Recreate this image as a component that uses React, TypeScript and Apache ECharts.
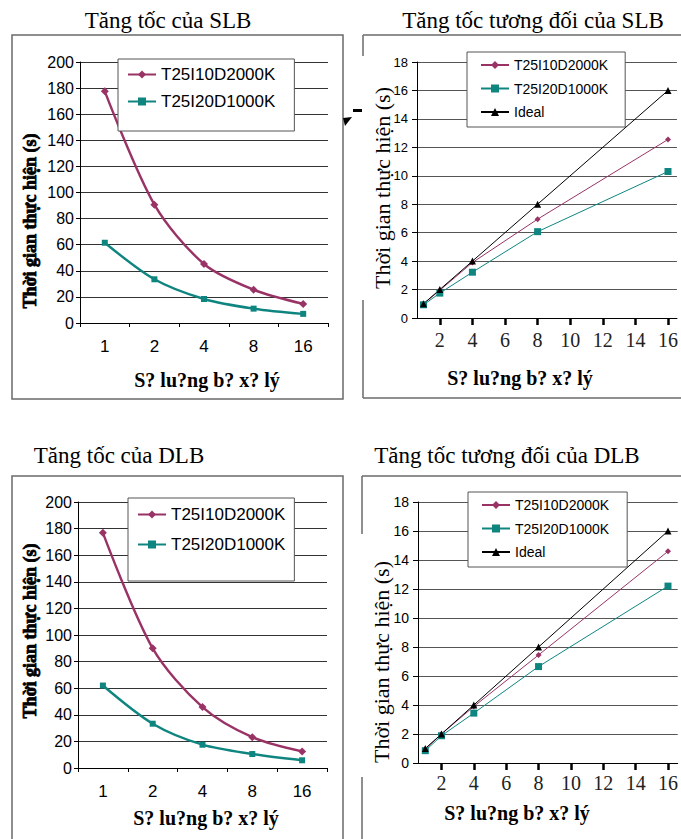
import React, { useEffect, useRef } from 'react';
import * as echarts from 'echarts';

// ---- data ----
const categories = ['1', '2', '4', '8', '16'];
const processors = [1, 2, 4, 8, 16];
const seriesNames = ['T25I10D2000K', 'T25I20D1000K', 'Ideal'];

const slbTimeA = [177.5, 90.7, 45.2, 25.5, 14.6];
const slbTimeB = [61.5, 33.5, 18.4, 11, 7];
const dlbTimeA = [176.8, 90, 45.8, 23.2, 12.5];
const dlbTimeB = [62, 33.3, 17.5, 10.5, 5.8];

const slbSpeedA = [1, 1.95, 3.9, 6.95, 12.55];
const slbSpeedB = [0.93, 1.75, 3.22, 6.07, 10.3];
const dlbSpeedA = [0.96, 2, 3.9, 7.45, 14.6];
const dlbSpeedB = [0.85, 1.88, 3.44, 6.65, 12.2];
const idealSpeed = [1, 2, 4, 8, 16];

const timeTicks = [0, 20, 40, 60, 80, 100, 120, 140, 160, 180, 200];
const speedXTicks = [2, 4, 6, 8, 10, 12, 14, 16];

const MAROON = '#993366';
const TEAL = '#0f8580';
const SANS = '"Liberation Sans", Arial, sans-serif';
const SERIF = '"Liberation Serif", "Times New Roman", serif';

const labelMap: Record<string, string> = {
  p1a: seriesNames[0], p1b: seriesNames[1],
  p2a: seriesNames[0], p2b: seriesNames[1], p2c: seriesNames[2],
  p3a: seriesNames[0], p3b: seriesNames[1],
  p4a: seriesNames[0], p4b: seriesNames[1], p4c: seriesNames[2],
};

const pairs = (ys: number[]) => processors.map((x, i) => [x, ys[i]]);

function timeXAxis(gridIndex: number) {
  return {
    type: 'category', gridIndex, data: categories, boundaryGap: true,
    axisLine: { show: true, lineStyle: { color: '#000', width: 1 } },
    axisTick: { show: true, length: 4, lineStyle: { color: '#000' } },
    axisLabel: { margin: 15, fontSize: 17, fontFamily: SANS, color: '#000' },
    splitLine: { show: false },
  };
}
function timeYAxis(gridIndex: number) {
  return {
    type: 'value', gridIndex, min: timeTicks[0], max: timeTicks[timeTicks.length - 1], interval: 20,
    axisLine: { show: true, onZero: false, lineStyle: { color: '#000' } },
    axisTick: { show: true, length: 4, lineStyle: { color: '#000' } },
    axisLabel: { margin: 6, fontSize: 16, fontFamily: SANS, color: '#000' },
    splitLine: { show: true, lineStyle: { color: '#333', width: 1 } },
  };
}
function speedXAxis(gridIndex: number, min: number, max: number, margin: number) {
  return {
    type: 'value', gridIndex, min, max,
    axisLine: { show: true, onZero: false, lineStyle: { color: '#000' } },
    axisTick: { show: true, customValues: speedXTicks, length: 7, lineStyle: { color: '#000', width: 2.5 } },
    axisLabel: { customValues: speedXTicks, margin, fontSize: 20, fontFamily: SERIF, color: '#222' },
    splitLine: { show: false },
  };
}
function speedYAxis(gridIndex: number, fontSize: number) {
  return {
    type: 'value', gridIndex, min: 0, max: 18, interval: 2,
    axisLine: { show: true, onZero: false, lineStyle: { color: '#000' } },
    axisTick: { show: true, length: 5, lineStyle: { color: '#000' } },
    axisLabel: { margin: 9, fontSize, fontFamily: SANS, color: '#000' },
    splitLine: { show: true, lineStyle: { color: '#555', width: 1 } },
  };
}

function timeSeries(name: string, idx: number, data: number[], color: string, symbol: string, size: number) {
  return {
    type: 'line', name, xAxisIndex: idx, yAxisIndex: idx, data, smooth: 0.3,
    symbol, symbolSize: size, showSymbol: true,
    lineStyle: { color, width: 2.4 }, itemStyle: { color },
  };
}
function speedSeries(name: string, idx: number, data: number[], color: string, symbol: string, size: number) {
  return {
    type: 'line', name, xAxisIndex: idx, yAxisIndex: idx, data: pairs(data),
    symbol, symbolSize: size, showSymbol: true,
    lineStyle: { color, width: 1 }, itemStyle: { color },
  };
}

function legend(data: string[], left: number, top: number, padding: number[], itemGap: number, fontSize: number) {
  return {
    data, left, top, orient: 'vertical', padding, itemGap, itemWidth: 28, itemHeight: 10,
    borderColor: '#555', borderWidth: 1, backgroundColor: '#fff', selectedMode: false,
    textStyle: { fontSize, fontFamily: SANS, color: '#000' },
    formatter: (n: string) => labelMap[n],
  };
}

function text(x: number, y: number, str: string, fontSize: number, fontFamily: string, fontWeight = 'normal', rotation = 0, extra: any = {}) {
  return {
    type: 'text', x, y, rotation,
    style: { text: str, fontSize, fontFamily, fontWeight, fill: '#000', align: 'center', verticalAlign: 'middle', ...extra },
  };
}
function seg(x1: number, y1: number, x2: number, y2: number) {
  return { type: 'line', shape: { x1, y1, x2, y2 }, style: { stroke: '#6a6a6a', lineWidth: 1.5 } };
}

const xTitle = 'S? lu?ng b? x? lý';
const yTitle = 'Thời gian thực hiện (s)';

const option: any = {
  animation: false,
  backgroundColor: '#fff',
  grid: [
    { left: 80, top: 62, width: 248, height: 261 },
    { left: 417, top: 62, width: 260, height: 256 },
    { left: 78, top: 502, width: 249, height: 266 },
    { left: 418, top: 502, width: 261, height: 261 },
  ],
  xAxis: [
    timeXAxis(0),
    speedXAxis(1, 0.6, 16.55, 12),
    timeXAxis(2),
    speedXAxis(3, 0.55, 16.6, 10),
  ],
  yAxis: [timeYAxis(0), speedYAxis(1, 13), timeYAxis(2), speedYAxis(3, 14)],
  legend: [
    legend(['p1a', 'p1b'], 118, 59, [7, 19, 21, 9], 10, 17),
    legend(['p2a', 'p2b', 'p2c'], 467, 52, [6, 17, 8, 13], 9.5, 14),
    legend(['p3a', 'p3b'], 128, 498, [8, 9, 28, 9], 13, 17),
    legend(['p4a', 'p4b', 'p4c'], 468, 492, [6, 18, 8, 13], 9.5, 14),
  ],
  series: [
    timeSeries('p1a', 0, slbTimeA, MAROON, 'diamond', 8),
    timeSeries('p1b', 0, slbTimeB, TEAL, 'rect', 6),
    speedSeries('p2a', 1, slbSpeedA, MAROON, 'diamond', 6),
    speedSeries('p2b', 1, slbSpeedB, TEAL, 'rect', 7),
    speedSeries('p2c', 1, idealSpeed, '#000', 'triangle', 7),
    timeSeries('p3a', 2, dlbTimeA, MAROON, 'diamond', 8),
    timeSeries('p3b', 2, dlbTimeB, TEAL, 'rect', 6),
    speedSeries('p4a', 3, dlbSpeedA, MAROON, 'diamond', 6),
    speedSeries('p4b', 3, dlbSpeedB, TEAL, 'rect', 7),
    speedSeries('p4c', 3, idealSpeed, '#000', 'triangle', 7),
  ],
  graphic: [
    // panel frames
    { type: 'rect', shape: { x: 12, y: 35, width: 331, height: 364 }, style: { fill: 'none', stroke: '#6a6a6a', lineWidth: 1.5 } },
    seg(363, 35, 681, 35), seg(363, 35, 363, 56), seg(363, 300, 363, 398), seg(363, 398, 681, 398),
    { type: 'polyline', shape: { points: [[12, 839], [12, 476], [343, 476], [343, 839]] }, style: { fill: 'none', stroke: '#6a6a6a', lineWidth: 1.5 } },
    seg(362, 476, 681, 476), seg(362, 476, 362, 534), seg(362, 777, 362, 839),
    // scan marks
    { type: 'polygon', shape: { points: [[343, 118], [352, 117], [345, 126]] }, style: { fill: '#000' } },
    { type: 'rect', shape: { x: 353, y: 109, width: 9, height: 3 }, style: { fill: '#000' } },
    // titles
    text(168, 20, 'Tăng tốc của SLB', 23, SERIF),
    text(533, 20, 'Tăng tốc tương đối của SLB', 23, SERIF),
    text(119, 455, 'Tăng tốc của DLB', 23, SERIF),
    text(507, 455, 'Tăng tốc tương đối của DLB', 23, SERIF),
    // axis titles
    text(207, 380, xTitle, 20, SERIF, 'bold'),
    text(520, 378, xTitle, 20, SERIF, 'bold'),
    text(206, 818, xTitle, 20, SERIF, 'bold'),
    text(517, 813, xTitle, 20, SERIF, 'bold'),
    text(30, 221, yTitle, 18, SERIF, 'bold', Math.PI / 2, { stroke: '#000', lineWidth: 0.8 }),
    text(30, 631, yTitle, 18, SERIF, 'bold', Math.PI / 2, { stroke: '#000', lineWidth: 0.8 }),
    text(382, 188, yTitle, 22, SERIF, 'normal', Math.PI / 2),
    text(381, 662, yTitle, 22, SERIF, 'normal', Math.PI / 2),
  ],
};

export default function App() {
  const ref = useRef<HTMLDivElement>(null);
  useEffect(() => {
    const chart = echarts.init(ref.current as HTMLDivElement, null, { renderer: 'svg' });
    chart.setOption(option);
    return () => chart.dispose();
  }, []);
  return (
    <div
      ref={ref}
      style={{ position: 'absolute', left: 0, top: 0, width: 681, height: 839, background: '#fff' }}
    />
  );
}
